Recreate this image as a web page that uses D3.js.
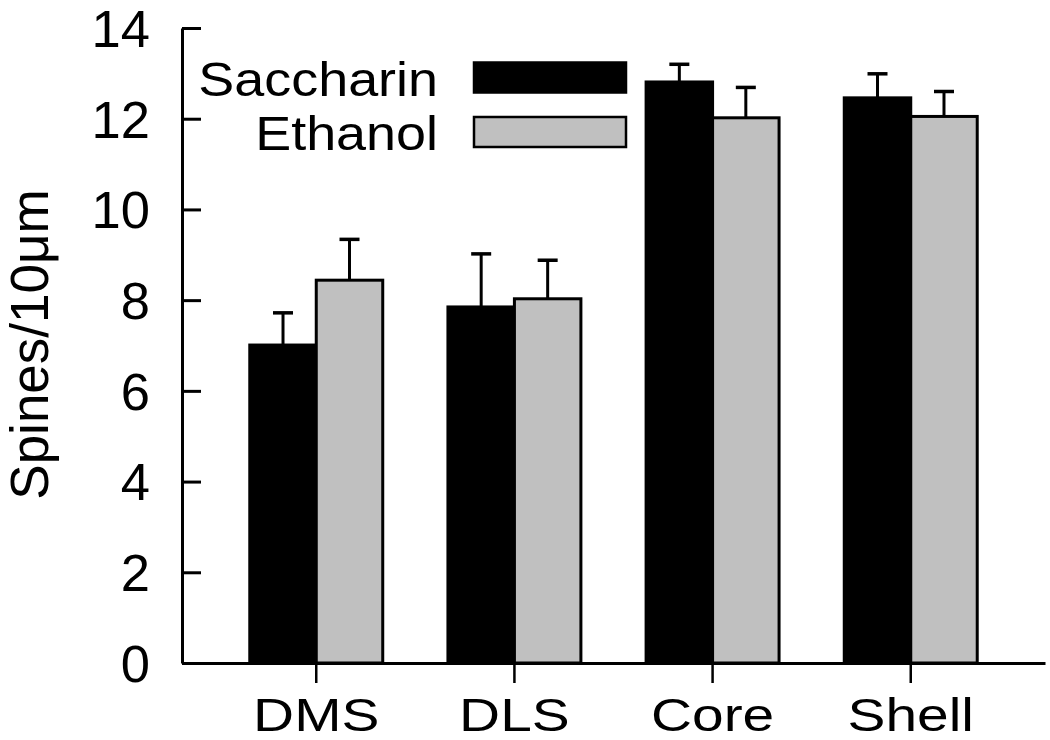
<!DOCTYPE html>
<html>
<head>
<meta charset="utf-8">
<script src="https://cdn.jsdelivr.net/npm/d3@7"></script>
<style>
  html, body { margin: 0; padding: 0; background: #fff; }
  svg { display: block; }
  text { font-family: "Liberation Sans", Arial, Helvetica, sans-serif; fill: #000; }
</style>
</head>
<body>
<svg id="chart" width="1050" height="740"></svg>
<script>
const categories = ["DMS", "DLS", "Core", "Shell"];
const seriesNames = ["Saccharin", "Ethanol"];
const saccharin = [7.01, 7.85, 12.81, 12.46];
const saccharinErr = [0.71, 1.17, 0.39, 0.53];
const ethanol = [8.44, 8.03, 12.02, 12.05];
const ethanolErr = [0.90, 0.85, 0.67, 0.55];
const yTicks = [0, 2, 4, 6, 8, 10, 12, 14];
const yLabel = "Spines/10\u03bcm";
const colors = {"Saccharin": "#000000", "Ethanol": "#c0c0c0"};

const svg = d3.select("#chart");
const mLeft = 182, mRight = 1045, mTop = 28, mBottom = 663;

const x0 = d3.scaleBand().domain(categories).range([mLeft, mRight])
  .paddingInner(0.329).paddingOuter(0.342);
const x1 = d3.scaleBand().domain(seriesNames).range([0, x0.bandwidth()]).padding(0);
const y = d3.scaleLinear().domain([0, 14]).range([mBottom, mTop]);

const data = categories.map((c, i) => ({
  cat: c,
  vals: [
    {s: "Saccharin", v: saccharin[i], e: saccharinErr[i]},
    {s: "Ethanol", v: ethanol[i], e: ethanolErr[i]}
  ]
}));

const groups = svg.append("g").selectAll("g").data(data).join("g")
  .attr("transform", d => `translate(${x0(d.cat)},0)`);

groups.selectAll("g.err").data(d => d.vals).join("g").attr("class", "err")
  .each(function(d) {
    const g = d3.select(this);
    const cx = x1(d.s) + x1.bandwidth() / 2;
    g.append("line").attr("x1", cx).attr("x2", cx)
      .attr("y1", y(d.v)).attr("y2", y(d.v + d.e))
      .attr("stroke", "#000").attr("stroke-width", 3);
    g.append("line").attr("x1", cx - 10).attr("x2", cx + 10)
      .attr("y1", y(d.v + d.e)).attr("y2", y(d.v + d.e))
      .attr("stroke", "#000").attr("stroke-width", 3.5);
  });

groups.selectAll("rect").data(d => d.vals).join("rect")
  .attr("x", d => x1(d.s))
  .attr("y", d => y(d.v))
  .attr("width", x1.bandwidth())
  .attr("height", d => y(0) - y(d.v))
  .attr("fill", d => colors[d.s])
  .attr("stroke", "#000")
  .attr("stroke-width", 3);

const yAxis = svg.append("g").attr("transform", `translate(${mLeft},0)`)
  .call(d3.axisLeft(y).tickValues(yTicks).tickSizeInner(-19).tickSizeOuter(0).tickPadding(32));
yAxis.select(".domain").attr("stroke-width", 3);
yAxis.selectAll(".tick line").attr("stroke-width", 3);
yAxis.selectAll(".tick text").style("font-size", "51px")
  .attr("x", 0).attr("dy", "0.36em")
  .attr("transform", "translate(-32,0) scale(1.03,1)");

const xAxis = svg.append("g").attr("transform", `translate(0,${mBottom})`)
  .call(d3.axisBottom(x0).tickSizeInner(20).tickSizeOuter(0).tickPadding(8));
xAxis.select(".domain").attr("stroke-width", 3);
xAxis.selectAll(".tick line").attr("stroke-width", 2.5);
xAxis.selectAll(".tick text").style("font-size", "47px")
  .attr("y", 0).attr("dy", 0)
  .attr("transform", "translate(0,68) scale(1.21,1)");

svg.append("text")
  .attr("transform", `translate(48,${(185 + 504) / 2}) rotate(-90)`)
  .attr("text-anchor", "middle")
  .style("font-size", "53px")
  .text(yLabel);

const legend = svg.append("g");
const legY = [77.5, 132];
seriesNames.forEach((s, i) => {
  legend.append("rect")
    .attr("x", 474).attr("y", legY[i] - 15)
    .attr("width", 152).attr("height", 30)
    .attr("fill", colors[s]).attr("stroke", "#000").attr("stroke-width", 2.5);
  legend.append("text")
    .attr("transform", `translate(438,${legY[i] + 18}) scale(1.1,1)`)
    .attr("text-anchor", "end")
    .style("font-size", "49px")
    .text(s);
});
</script>
</body>
</html>
